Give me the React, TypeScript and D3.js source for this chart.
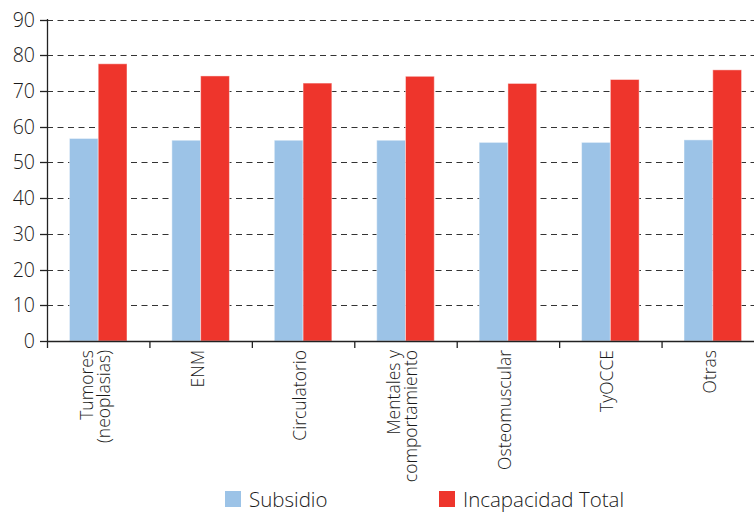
import * as d3 from "d3";

const categories = [
  ["Tumores", "(neoplasias)"],
  ["ENM"],
  ["Circulatorio"],
  ["Mentales y", "comportamiento"],
  ["Osteomuscular"],
  ["TyOCCE"],
  ["Otras"],
];
const seriesNames = ["Subsidio", "Incapacidad Total"];
const subsidio = [56.7, 56.2, 56.2, 56.2, 55.6, 55.6, 56.3];
const incapacidad = [77.6, 74.2, 72.2, 74.1, 72.1, 73.2, 75.9];
const yTicks = [0, 10, 20, 30, 40, 50, 60, 70, 80, 90];
const colors = ["#9cc3e7", "#ee352c"];

const W = 754;
const H = 512;
const font = "'Open Sans', 'Noto Sans', sans-serif";

export default function App() {
  const keys = categories.map((c) => c.join(" "));
  const x = d3.scaleBand().domain(keys).range([47, 764]).padding(0);
  const xs = d3
    .scaleBand()
    .domain(seriesNames)
    .range([0, x.bandwidth()])
    .paddingInner(0)
    .paddingOuter(0.78);
  const y = d3.scaleLinear().domain([0, 90]).range([341, 19.5]);
  const values = [subsidio, incapacidad];

  return (
    <svg
      width={W}
      height={H}
      style={{ position: "absolute", left: 0, top: 0, display: "block", background: "#fff" }}
      fontFamily={font}
      fontWeight={300}
    >
      {/* grid */}
      {yTicks
        .filter((t) => t > 0)
        .map((t) => (
          <line
            key={t}
            x1={47}
            x2={W}
            y1={Math.round(y(t)) + 0.5}
            y2={Math.round(y(t)) + 0.5}
            stroke="#333"
            strokeWidth={1}
            strokeDasharray="6,4.5"
          />
        ))}

      {/* bars */}
      {keys.map((k, i) => (
        <g key={k} transform={`translate(${x(k)},0)`}>
          {seriesNames.map((s, j) => (
            <rect
              key={s}
              x={xs(s)}
              y={y(values[j][i])}
              width={xs.bandwidth()}
              height={y(0) - y(values[j][i])}
              fill={colors[j]}
              stroke="rgba(255,255,255,0.45)"
              strokeWidth={1}
            />
          ))}
        </g>
      ))}

      {/* y axis */}
      <line x1={47.5} x2={47.5} y1={19} y2={341.5} stroke="#222" strokeWidth={1.3} />
      {yTicks.map((t) => (
        <g key={t} transform={`translate(0,${Math.round(y(t)) + 0.5})`}>
          <line x1={40} x2={47} stroke="#222" strokeWidth={1.3} />
          <text
            x={35}
            dy="0.35em"
            textAnchor="end"
            fontSize={19.5}
            fill="#1a1a1a"
          >
            {t}
          </text>
        </g>
      ))}

      {/* x axis */}
      <line x1={47} x2={W} y1={341.5} y2={341.5} stroke="#222" strokeWidth={1.3} />
      {keys.map((k) => (
        <line
          key={k}
          x1={(x(k) ?? 0) + 0.5}
          x2={(x(k) ?? 0) + 0.5}
          y1={341}
          y2={348}
          stroke="#222"
          strokeWidth={1.3}
        />
      ))}
      {categories.map((lines, i) => {
        const cx = (x(keys[i]) ?? 0) + x.bandwidth() / 2 - 3;
        const n = lines.length;
        return (
          <text
            key={keys[i]}
            transform={`translate(${cx},350) rotate(-90)`}
            textAnchor="end"
            fontSize={17.5}
            fill="#1a1a1a"
          >
            {lines.map((l, li) => (
              <tspan key={l} x={0} y={(li - (n - 1) / 2) * 17} dy="0.35em">
                {l}
              </tspan>
            ))}
          </text>
        );
      })}

      {/* legend */}
      {seriesNames.map((s, j) => {
        const lx = [225, 439][j];
        return (
          <g key={s} transform={`translate(${lx},491)`}>
            <rect width={16} height={16} fill={colors[j]} />
            <text x={24} y={15.5} fontSize={20.5} fill="#1a1a1a">
              {s}
            </text>
          </g>
        );
      })}
    </svg>
  );
}
